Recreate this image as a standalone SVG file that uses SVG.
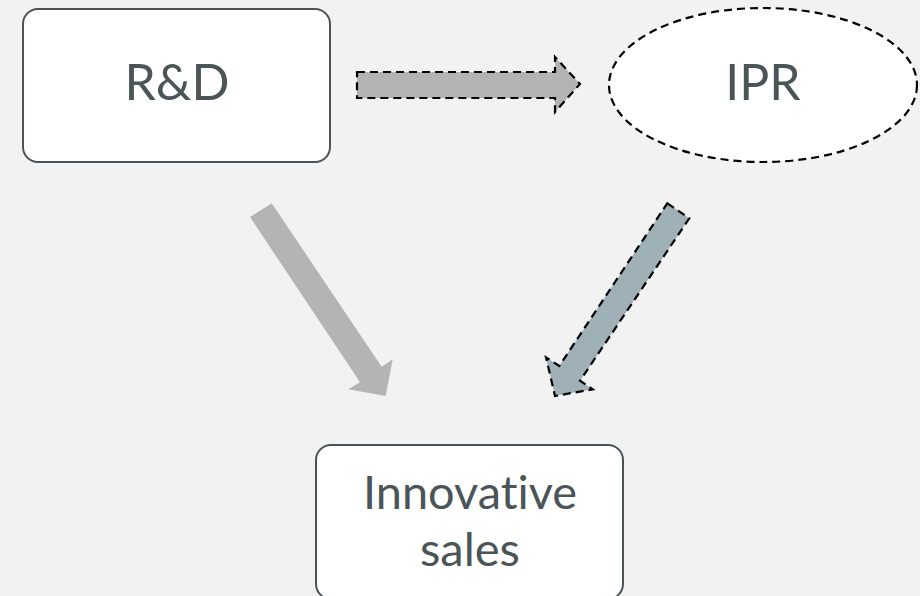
<svg xmlns="http://www.w3.org/2000/svg" width="920" height="596" viewBox="0 0 920 596">
<style>
.box{fill:#ffffff;stroke:#4a5356;stroke-width:2}
.lbl{font-family:"Lato","Open Sans",sans-serif;font-size:50px;fill:#4b5457;text-anchor:middle;font-variant-ligatures:none}
.sm{font-size:47px}
.dash{stroke:#000000;stroke-width:2.2;stroke-dasharray:8,5}
</style>
<rect width="920" height="596" fill="#f2f2f2"/>
<g id="connectors">
<path d="M357,72 L555,72 L555,57 L580,84 L555,112 L555,98 L357,98 Z" fill="#b3b3b3" class="dash"/>
<path d="M250,217 L271.7,203.3 L381.7,366.7 L392.7,359.3 L385.7,396 L348.3,389.3 L360,382.3 Z" fill="#b3b4b5"/>
<path d="M667.3,203.3 L689.3,218.3 L580,380.7 L592.7,389.3 L555,396 L546,357.3 L559.3,366 Z" fill="#9fb0b6" class="dash"/>
</g>
<g id="rd">
<rect x="23" y="9" width="307" height="153" rx="15" class="box"/>
<text x="177" y="100" class="lbl">R&amp;D</text>
</g>
<g id="ipr">
<ellipse cx="763" cy="85" rx="154" ry="77" fill="#ffffff" class="dash" stroke-dasharray="10,6"/>
<text x="763" y="100" class="lbl">IPR</text>
</g>
<g id="sales">
<rect x="316" y="445" width="307" height="154" rx="15" class="box"/>
<text x="470" y="509" class="lbl sm" textLength="214" lengthAdjust="spacingAndGlyphs">Innovative</text>
<text x="470" y="566" class="lbl sm">sales</text>
</g>
</svg>
